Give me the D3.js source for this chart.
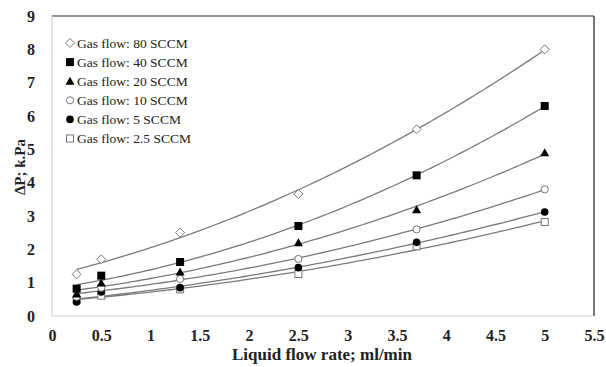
<!DOCTYPE html>
<html>
<head>
<meta charset="utf-8">
<script src="https://cdn.jsdelivr.net/npm/d3@7"></script>
<style>
  body { margin: 0; background: #fff; }
  svg text { font-family: "Liberation Serif", "Times New Roman", serif; }
</style>
</head>
<body>
<div id="chart"></div>
<script>
var width = 606, height = 367;

// liquid flow rate (ml/min)
const liquidFlow = [0.25, 0.5, 1.3, 2.5, 3.7, 5];

// pressure drop (kPa) per gas flow
const gas80 = [1.25, 1.7, 2.5, 3.66, 5.6, 8.0];
const gas40 = [0.82, 1.21, 1.62, 2.7, 4.22, 6.3];
const gas20 = [0.66, 0.99, 1.32, 2.2, 3.19, 4.9];
const gas10 = [0.58, 0.85, 1.11, 1.71, 2.6, 3.8];
const gas5 = [0.42, 0.72, 0.85, 1.45, 2.21, 3.12];
const gas2_5 = [0.48, 0.61, 0.8, 1.26, 2.09, 2.82];

const seriesNames = ["Gas flow: 80 SCCM", "Gas flow: 40 SCCM", "Gas flow: 20 SCCM",
                     "Gas flow: 10 SCCM", "Gas flow: 5 SCCM", "Gas flow: 2.5 SCCM"];
const seriesValues = [gas80, gas40, gas20, gas10, gas5, gas2_5];
const markerTypes = ["diamond", "square", "triangle", "circle", "dot", "opensquare"];

const xTicks = [0, 0.5, 1, 1.5, 2, 2.5, 3, 3.5, 4, 4.5, 5, 5.5];
const yTicks = [0, 1, 2, 3, 4, 5, 6, 7, 8, 9];

const margin = {top: 16, right: 12, bottom: 51, left: 52};

const svg = d3.select("#chart").append("svg")
    .attr("width", width)
    .attr("height", height);

const x = d3.scaleLinear().domain([0, 5.5]).range([margin.left, width - margin.right]);
const y = d3.scaleLinear().domain([0, 9]).range([height - margin.bottom, margin.top]);

// plot frame: light left/bottom axes, darker top/right border
svg.append("line")
    .attr("x1", x(0)).attr("x2", x(5.5)).attr("y1", y(9)).attr("y2", y(9))
    .attr("stroke", "#6e6e6e").attr("stroke-width", 1.6);
svg.append("line")
    .attr("x1", x(5.5)).attr("x2", x(5.5)).attr("y1", y(9)).attr("y2", y(0))
    .attr("stroke", "#555").attr("stroke-width", 1.6);
svg.append("line")
    .attr("x1", x(0)).attr("x2", x(0)).attr("y1", y(9)).attr("y2", y(0))
    .attr("stroke", "#d0d0d0").attr("stroke-width", 1.2);
svg.append("line")
    .attr("x1", x(0)).attr("x2", x(5.5)).attr("y1", y(0)).attr("y2", y(0))
    .attr("stroke", "#d0d0d0").attr("stroke-width", 1.2);

// axes (labels only)
const xAxis = svg.append("g")
    .attr("transform", "translate(0," + (y(0) + 11) + ")")
    .call(d3.axisBottom(x).tickValues(xTicks).tickSize(0).tickFormat(d3.format("")));
const yAxis = svg.append("g")
    .attr("transform", "translate(" + (x(0) - 14) + ",0)")
    .call(d3.axisLeft(y).tickValues(yTicks).tickSize(0));
[xAxis, yAxis].forEach(function(g) {
  g.select(".domain").remove();
  g.selectAll("text")
      .attr("font-family", "Liberation Serif, serif")
      .attr("font-size", 16)
      .attr("font-weight", "bold")
      .attr("fill", "#222");
});

// axis titles
svg.append("text")
    .attr("x", 322).attr("y", 360)
    .attr("text-anchor", "middle")
    .attr("font-size", 17).attr("font-weight", "bold").attr("fill", "#222")
    .text("Liquid flow rate; ml/min");
svg.append("text")
    .attr("transform", "translate(25,167) rotate(-90)")
    .attr("text-anchor", "middle")
    .attr("font-size", 15).attr("font-weight", "bold").attr("fill", "#222")
    .text("ΔP; k.Pa");

// 2nd order polynomial trendline (least squares)
function quadFit(xs, ys) {
  var s = [0, 0, 0, 0, 0], t = [0, 0, 0];
  xs.forEach(function(xv, i) {
    for (var k = 0; k < 5; k++) s[k] += Math.pow(xv, k);
    for (var k = 0; k < 3; k++) t[k] += Math.pow(xv, k) * ys[i];
  });
  var A = [[s[0], s[1], s[2], t[0]], [s[1], s[2], s[3], t[1]], [s[2], s[3], s[4], t[2]]];
  for (var i = 0; i < 3; i++) {
    for (var j = i + 1; j < 3; j++) {
      var f = A[j][i] / A[i][i];
      for (var k = i; k < 4; k++) A[j][k] -= f * A[i][k];
    }
  }
  var c = [0, 0, 0];
  for (var i = 2; i >= 0; i--) {
    var v = A[i][3];
    for (var k = i + 1; k < 3; k++) v -= A[i][k] * c[k];
    c[i] = v / A[i][i];
  }
  return function(xv) { return c[0] + c[1] * xv + c[2] * xv * xv; };
}

const line = d3.line().x(d => x(d[0])).y(d => y(d[1]));
const lines = svg.append("g");
seriesValues.forEach(function(vals) {
  var fit = quadFit(liquidFlow, vals);
  var pts = d3.range(0.25, 5.0001, 0.05).map(v => [v, fit(v)]);
  lines.append("path")
      .attr("d", line(pts))
      .attr("fill", "none")
      .attr("stroke", "#7a7a7a")
      .attr("stroke-width", 1.3);
});

function drawMarker(g, type, cx, cy) {
  if (type == "diamond") {
    g.append("path").attr("d", "M" + cx + "," + (cy - 4.5) + "L" + (cx + 4.5) + "," + cy +
        "L" + cx + "," + (cy + 4.5) + "L" + (cx - 4.5) + "," + cy + "Z")
      .attr("fill", "#fff").attr("stroke", "#777").attr("stroke-width", 1);
  } else if (type == "square") {
    g.append("rect").attr("x", cx - 4).attr("y", cy - 4).attr("width", 8).attr("height", 8)
      .attr("fill", "#000");
  } else if (type == "triangle") {
    g.append("path").attr("d", "M" + cx + "," + (cy - 4.5) + "L" + (cx + 4.5) + "," + (cy + 3.5) +
        "L" + (cx - 4.5) + "," + (cy + 3.5) + "Z")
      .attr("fill", "#000");
  } else if (type == "circle") {
    g.append("circle").attr("cx", cx).attr("cy", cy).attr("r", 3.6)
      .attr("fill", "#fff").attr("stroke", "#777").attr("stroke-width", 1);
  } else if (type == "dot") {
    g.append("circle").attr("cx", cx).attr("cy", cy).attr("r", 3.8).attr("fill", "#000");
  } else {
    g.append("rect").attr("x", cx - 3.5).attr("y", cy - 3.5).attr("width", 7).attr("height", 7)
      .attr("fill", "#fff").attr("stroke", "#777").attr("stroke-width", 1);
  }
}

// draw from the bottom series up so upper markers stay on top
const marks = svg.append("g");
for (var s = seriesValues.length - 1; s >= 0; s--) {
  seriesValues[s].forEach(function(v, i) {
    drawMarker(marks, markerTypes[s], x(liquidFlow[i]), y(v));
  });
}

// legend
const legend = svg.append("g");
seriesNames.forEach(function(name, i) {
  var ly = 43 + i * 19.1;
  drawMarker(legend, markerTypes[i], 70, ly);
  legend.append("text")
      .attr("x", 77).attr("y", ly + 4.5)
      .attr("font-size", 13.5)
      .attr("fill", "#222")
      .text(name);
});
</script>
</body>
</html>
